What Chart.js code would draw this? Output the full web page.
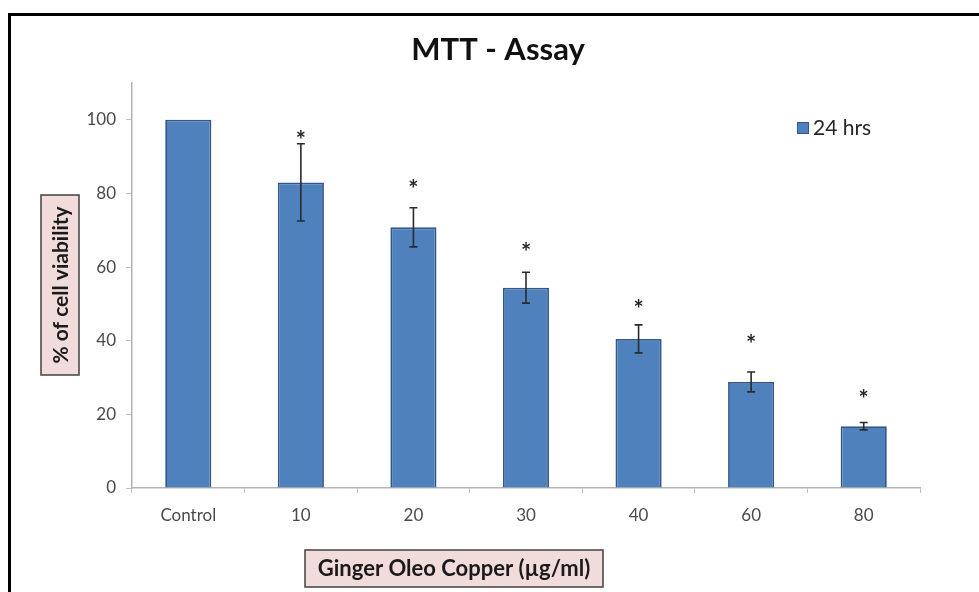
<!DOCTYPE html>
<html>
<head>
<meta charset="utf-8">
<script src="https://cdn.jsdelivr.net/npm/chart.js@4/dist/chart.umd.min.js"></script>
<style>
html,body{margin:0;padding:0;background:#fff;overflow:hidden}
#wrap{position:relative;width:979px;height:592px}
</style>
</head>
<body>
<div id="wrap"><canvas id="c" width="979" height="592"></canvas></div>
<script>
// ---- data ----
const categories = ['Control', '10', '20', '30', '40', '60', '80'];
const viability = [100, 83, 70.8, 54.4, 40.5, 28.8, 16.8];
const errors = [0, 10.5, 5.3, 4.2, 3.8, 2.7, 1.0];
const starLevels = [null, 95.5, 82.2, 65.3, 49.7, 40.1, 25.3];
const yTicks = [0, 20, 40, 60, 80, 100];
const seriesLabel = '24 hrs';
const titleText = 'MTT - Assay';
const yTitle = '% of cell viability';
const xTitle = 'Ginger Oleo Copper (\u00b5g/ml)';

const FONT = 'Lato, "Open Sans", sans-serif';
const BAR_FILL = '#4f81bd';
const BAR_EDGE = '#34578a';

const decorPlugin = {
  id: 'decor',
  beforeDraw(chart) {
    const ctx = chart.ctx;
    ctx.save();
    ctx.fillStyle = '#fff';
    ctx.fillRect(0, 0, chart.width, chart.height);
    ctx.restore();
  },
  afterDatasetsDraw(chart) {
    const ctx = chart.ctx;
    const x = chart.scales.x, y = chart.scales.y;
    ctx.save();
    ctx.strokeStyle = '#2b2b2b';
    ctx.lineWidth = 1.6;
    viability.forEach((v, i) => {
      const e = errors[i];
      const cx = x.getPixelForValue(i);
      if (e > 0) {
        const yt = y.getPixelForValue(v + e), yb = y.getPixelForValue(v - e);
        ctx.beginPath();
        ctx.moveTo(cx, yt); ctx.lineTo(cx, yb);
        ctx.moveTo(cx - 4, yt); ctx.lineTo(cx + 4, yt);
        ctx.moveTo(cx - 4, yb); ctx.lineTo(cx + 4, yb);
        ctx.stroke();
      }
      const s = starLevels[i];
      if (s !== null) {
        ctx.fillStyle = '#262626';
        ctx.font = 'bold 24px ' + FONT;
        ctx.textAlign = 'center';
        ctx.textBaseline = 'alphabetic';
        ctx.fillText('*', cx, y.getPixelForValue(s) + 13);
      }
    });
    ctx.restore();
  },
  afterDraw(chart) {
    const ctx = chart.ctx;
    ctx.save();
    // title
    ctx.fillStyle = '#111';
    ctx.font = 'bold 31px ' + FONT;
    ctx.textAlign = 'center';
    ctx.textBaseline = 'middle';
    ctx.fillText(titleText, 498, 50);

    // y title box
    ctx.fillStyle = '#f2dcdb';
    ctx.fillRect(41, 195, 38, 180);
    ctx.strokeStyle = '#4d4d4d';
    ctx.lineWidth = 1.6;
    ctx.strokeRect(41, 195, 38, 180);
    ctx.save();
    ctx.translate(60, 285);
    ctx.rotate(-Math.PI / 2);
    ctx.fillStyle = '#1a1a1a';
    ctx.font = 'bold 21px ' + FONT;
    ctx.fillText(yTitle, 0, 1);
    ctx.restore();

    // x title box
    ctx.fillStyle = '#f2dcdb';
    ctx.fillRect(305, 550, 298, 37);
    ctx.strokeRect(305, 550, 298, 37);
    ctx.fillStyle = '#1a1a1a';
    ctx.font = 'bold 22px ' + FONT;
    ctx.fillText(xTitle, 454, 569);

    // legend
    ctx.fillStyle = BAR_FILL;
    ctx.fillRect(797, 122, 12, 12);
    ctx.strokeStyle = BAR_EDGE;
    ctx.lineWidth = 1;
    ctx.strokeRect(797.5, 122.5, 11, 11);
    ctx.fillStyle = '#262626';
    ctx.font = '21px ' + FONT;
    ctx.textAlign = 'left';
    ctx.fillText(chart.data.datasets[0].label, 813, 128);

    // frame
    ctx.strokeStyle = '#000';
    ctx.lineWidth = 3;
    ctx.beginPath();
    ctx.moveTo(9.5, 600);
    ctx.lineTo(9.5, 14.5);
    ctx.lineTo(985, 14.5);
    ctx.stroke();
    ctx.restore();
  }
};

new Chart(document.getElementById('c'), {
  type: 'bar',
  data: {
    labels: categories,
    datasets: [{
      label: seriesLabel,
      data: viability,
      backgroundColor: BAR_FILL,
      borderColor: BAR_EDGE,
      borderWidth: 1.8,
      categoryPercentage: 1,
      barPercentage: 0.41
    }]
  },
  options: {
    responsive: false,
    animation: false,
    devicePixelRatio: 1,
    layout: { padding: { left: 0, top: 83, right: 59, bottom: 64 } },
    plugins: { legend: { display: false }, tooltip: { enabled: false }, title: { display: false } },
    scales: {
      x: {
        grid: { drawOnChartArea: false, drawTicks: true, tickLength: 5, color: '#bfbfbf', offset: true },
        border: { color: '#b3b3b3', width: 1.5 },
        ticks: { color: '#4a4a4a', font: { family: FONT, size: 17 }, padding: 12, maxRotation: 0 },
        afterFit(s) { s.height = 40; }
      },
      y: {
        min: 0, max: 110,
        grid: { drawOnChartArea: false, drawTicks: true, tickLength: 6, color: '#bfbfbf' },
        border: { color: '#b3b3b3', width: 1.5 },
        ticks: { color: '#4a4a4a', font: { family: FONT, size: 17 }, padding: 10, stepSize: 20 },
        afterBuildTicks(s) { s.ticks = yTicks.map(v => ({ value: v })); },
        afterFit(s) { s.width = 132; }
      }
    }
  },
  plugins: [decorPlugin]
});
</script>
</body>
</html>
